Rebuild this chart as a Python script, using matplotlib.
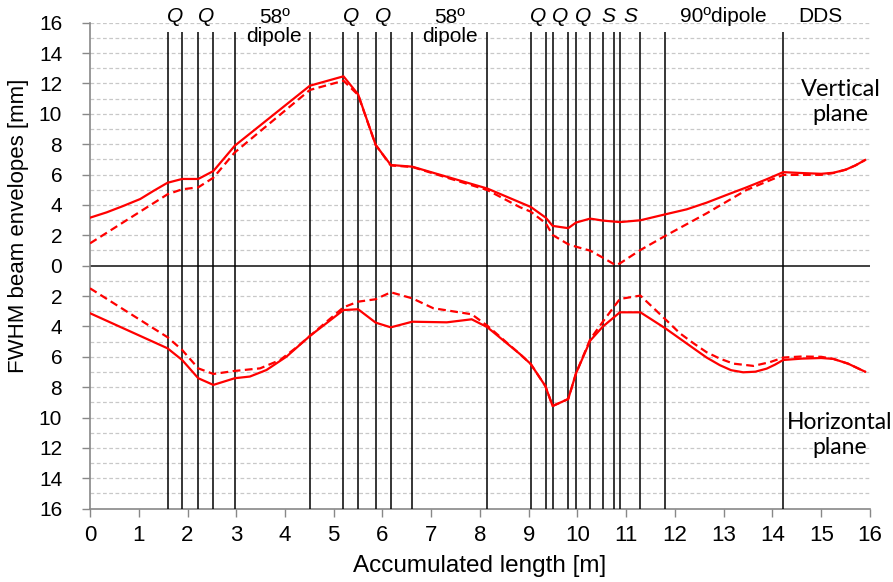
import numpy as np
import matplotlib
matplotlib.use("Agg")
import matplotlib.pyplot as plt
from matplotlib import font_manager

# element boundaries along the beamline [m]
edges = [1.59, 1.89, 2.22, 2.53, 2.97, 4.51, 5.20, 5.50, 5.86, 6.17, 6.61, 8.15,
         9.04, 9.35, 9.49, 9.81, 9.97, 10.26, 10.52, 10.75, 10.87, 11.29, 11.80, 14.22]

# element labels: (x centre, text, italic)
elem_labels = [
    (1.74, "Q", True), (2.375, "Q", True), (3.78, "58º\ndipole", False),
    (5.35, "Q", True), (6.015, "Q", True), (7.38, "58º\ndipole", False),
    (9.19, "Q", True), (9.65, "Q", True), (10.115, "Q", True),
    (10.63, "S", True), (11.08, "S", True),
    (13.0, "90ºdipole", False), (14.98, "DDS", False),
]

# vertical plane envelopes [mm]
v_s = [0, 0.34, 0.68, 1.03, 1.30, 1.59, 1.89, 2.22, 2.53, 2.97, 4.51, 5.20, 5.50, 5.86, 6.17,
       6.61, 8.15, 9.04, 9.35, 9.49, 9.81, 9.97, 10.26, 10.52, 10.87, 11.29, 11.80, 12.24,
       12.65, 13.06, 13.47, 13.88, 14.22, 14.6, 15.0, 15.25, 15.5, 15.7, 15.9]
v_solid = [3.16, 3.51, 3.93, 4.39, 4.92, 5.46, 5.71, 5.71, 6.23, 7.9, 11.85, 12.47, 11.28, 7.95, 6.63,
           6.52, 5.08, 3.87, 3.16, 2.62, 2.47, 2.84, 3.10, 2.97, 2.87, 2.99, 3.38, 3.71,
           4.15, 4.66, 5.16, 5.69, 6.16, 6.10, 6.05, 6.12, 6.32, 6.60, 6.96]

vd_s = [0, 1.59, 1.89, 2.22, 2.53, 2.97, 4.51, 5.20, 5.50, 5.86, 6.17, 6.61, 8.15, 8.82,
        9.04, 9.35, 9.49, 9.81, 9.97, 10.26, 10.52, 10.78, 10.87, 11.29, 11.80, 12.65,
        13.47, 14.22, 15.0, 15.25, 15.5, 15.7, 15.9]
v_dashed = [1.47, 4.70, 5.03, 5.16, 5.79, 7.46, 11.57, 12.18, 11.24, 7.95, 6.60, 6.50, 4.98, 3.85,
            3.56, 2.79, 2.02, 1.41, 1.25, 0.99, 0.53, 0.04, 0.15, 1.03, 1.96, 3.45,
            4.99, 5.98, 5.98, 6.10, 6.32, 6.60, 6.96]

# horizontal plane envelopes [mm] (drawn below the axis)
h_s = [0, 1.59, 1.89, 2.22, 2.53, 2.97, 3.28, 3.62, 4.03, 4.51, 5.20, 5.50, 5.86, 6.17,
       6.61, 7.32, 7.83, 8.15, 8.82, 9.04, 9.34, 9.49, 9.81, 9.97, 10.26, 10.52, 10.87,
       11.29, 11.80, 12.38, 12.65, 12.92, 13.15, 13.40, 13.65, 13.88, 14.05, 14.22, 14.6,
       15.0, 15.25, 15.55, 15.9]
h_solid = [3.13, 5.44, 6.21, 7.41, 7.85, 7.41, 7.30, 6.87, 5.99, 4.63, 2.92, 2.87, 3.75, 4.06,
           3.69, 3.73, 3.53, 4.05, 5.82, 6.47, 7.92, 9.24, 8.78, 7.09, 4.94, 4.01, 3.07,
           3.07, 4.12, 5.44, 6.05, 6.55, 6.88, 7.02, 6.98, 6.78, 6.52, 6.21, 6.12,
           6.08, 6.14, 6.45, 6.98]

hd_s = [0, 1.59, 1.89, 2.22, 2.53, 2.97, 3.49, 3.90, 4.24, 4.51, 5.20, 5.50, 5.86, 6.17,
        6.61, 7.04, 7.83, 8.15, 8.82, 9.04, 9.34, 9.49, 9.81, 9.97, 10.26, 10.52, 10.75,
        10.87, 11.29, 11.80, 12.10, 12.38, 12.65, 12.92, 13.20, 13.61, 13.95, 14.22,
        14.6, 15.0, 15.25, 15.55, 15.9]
h_dashed = [1.49, 4.71, 5.55, 6.76, 7.13, 6.93, 6.76, 6.21, 5.37, 4.63, 2.74, 2.37, 2.21, 1.75,
            2.15, 2.80, 3.20, 3.95, 5.82, 6.47, 7.92, 9.24, 8.78, 7.09, 4.85, 3.69, 2.70,
            2.19, 1.97, 3.52, 4.45, 5.11, 5.70, 6.12, 6.45, 6.60, 6.35, 6.05,
            5.98, 6.00, 6.14, 6.45, 6.98]

plt.rcParams["font.family"] = ["Liberation Sans", "DejaVu Sans"]

installed = {f.name for f in font_manager.fontManager.ttflist}
if "Liberation Sans Narrow" in installed:
    ylab_font, ylab_size = ["Liberation Sans Narrow", "Liberation Sans"], 17.5
else:
    ylab_font, ylab_size = ["Liberation Sans", "DejaVu Sans"], 16

fig = plt.figure(figsize=(8.93, 5.82), dpi=100)
ax = fig.add_axes([0.1008, 0.126, 0.8734, 0.835])

ax.set_xlim(0, 16)
ax.set_ylim(-16, 16)

# light dashed grid every 1 mm, solid zero line
for yv in range(-15, 17):
    if yv == 0:
        continue
    ax.axhline(yv, color="#c8c8c8", lw=0.9, ls=(0, (3, 2)), zorder=1)
ax.axhline(0, color="#404040", lw=1.4, zorder=2)

# element boundaries
ax.vlines(edges, -16, 15.4, colors="black", lw=1.1, zorder=3)

red = "#ff0000"
ax.plot(vd_s, v_dashed, color=red, lw=1.6, ls=(0, (3.5, 2)), zorder=4)
ax.plot(v_s, v_solid, color=red, lw=1.6, zorder=5)
ax.plot(hd_s, -np.array(h_dashed), color=red, lw=1.6, ls=(0, (3.5, 2)), zorder=4)
ax.plot(h_s, -np.array(h_solid), color=red, lw=1.6, zorder=5)

for x, txt, ital in elem_labels:
    if "\n" in txt:
        ax.text(x, 17.0, txt, ha="center", va="top", fontsize=15,
                linespacing=1.0, clip_on=False, zorder=6)
    else:
        ax.text(x, 16.4, txt, ha="center", va="center", fontsize=15,
                style="italic" if ital else "normal", clip_on=False, zorder=6)

ax.text(15.4, 10.8, "Vertical\nplane", ha="center", va="center", fontsize=17,
        family=["Lato", "DejaVu Sans"], linespacing=1.25)
ax.text(15.37, -11.15, "Horizontal\nplane", ha="center", va="center", fontsize=16.5,
        family=["Lato", "DejaVu Sans"], linespacing=1.25)

ax.set_xticks(range(0, 17))
ax.set_yticks(range(-16, 17, 2))
ax.set_yticklabels([str(abs(v)) for v in range(-16, 17, 2)])
ax.tick_params(axis="x", labelsize=16, length=6, width=1, color="#888888", pad=6)
ax.tick_params(axis="y", labelsize=15, length=6, width=1, color="#888888", pad=14)

for side in ("top", "right"):
    ax.spines[side].set_visible(False)
for side in ("left", "bottom"):
    ax.spines[side].set_color("#888888")
    ax.spines[side].set_linewidth(1.2)

ax.set_xlabel("Accumulated length [m]", fontsize=17.5, labelpad=6)
ax.set_ylabel("FWHM beam envelopes [mm]", fontsize=ylab_size, family=ylab_font)
ax.yaxis.set_label_coords(-0.078, 0.582)

fig.savefig("out.png", dpi=100)
